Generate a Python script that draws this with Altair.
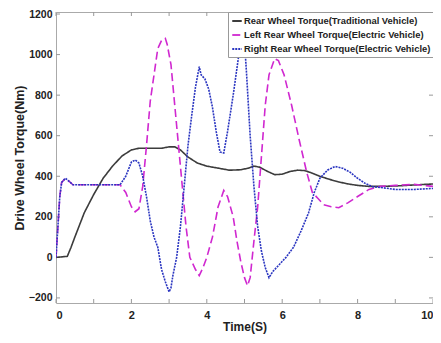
import altair as alt
import pandas as pd

# Traditional vehicle rear wheel torque (black solid)
trad_t = [0, 0.3, 0.4, 0.5, 0.75, 1.0, 1.25, 1.5, 1.75, 2.0, 2.2, 2.5, 2.8, 3.0, 3.15, 3.3, 3.5, 3.75, 4.0, 4.3,
          4.6, 4.9, 5.1, 5.25, 5.4, 5.6, 5.8, 6.0, 6.2, 6.4, 6.6, 6.8, 7.0, 7.25, 7.5, 7.75, 8.0, 8.3, 8.6, 9.0, 9.5, 10.0]
trad_v = [0, 5, 50, 100, 220, 310, 390, 450, 500, 530, 538, 538, 538, 545, 545, 530, 495, 465, 450, 440,
          430, 432, 440, 450, 445, 425, 408, 410, 423, 430, 428, 415, 400, 385, 372, 362, 355, 350, 350, 352, 357, 362]

# Left rear wheel torque, electric vehicle (magenta dashed)
left_t = [0, 0.05, 0.1, 0.15, 0.25, 0.35, 0.45, 1.0, 1.5, 1.7, 1.85, 2.0, 2.1, 2.2, 2.3, 2.4, 2.5, 2.6, 2.7, 2.8,
          2.9, 2.95, 3.05, 3.15, 3.25, 3.35, 3.45, 3.55, 3.7, 3.8, 3.9, 4.0, 4.15, 4.3, 4.45, 4.55, 4.7, 4.8, 4.9, 5.0,
          5.08, 5.15, 5.25, 5.35, 5.45, 5.55, 5.65, 5.8, 5.9, 6.05, 6.25, 6.45, 6.65, 6.8, 6.95, 7.1, 7.3, 7.5, 7.75,
          8.0, 8.3, 8.6, 9.0, 9.5, 10.0]
left_v = [0, 150, 300, 370, 390, 375, 358, 358, 358, 358, 320, 250, 225, 240, 350, 550, 770, 900, 1030, 1070,
          1080, 1050, 950, 750, 550, 350, 150, 0, -60, -90, -50, 0, 100, 250, 330, 300, 200, 80, -20, -100,
          -140, -100, 80, 250, 500, 750, 900, 980, 970, 900, 750, 580, 420, 320, 290, 260, 250, 245, 270,
          300, 335, 350, 355, 360, 350]

# Right rear wheel torque, electric vehicle (blue dotted)
right_t = [0, 0.05, 0.1, 0.15, 0.25, 0.35, 0.45, 1.0, 1.5, 1.7, 1.85, 2.0, 2.1, 2.2, 2.3, 2.4, 2.5, 2.6, 2.7, 2.8,
           2.9, 3.0, 3.05, 3.1, 3.2, 3.3, 3.4, 3.5, 3.6, 3.7, 3.8, 3.85, 3.95, 4.05, 4.15, 4.25, 4.35, 4.45, 4.55,
           4.7, 4.85, 4.95, 5.0, 5.05, 5.15, 5.25, 5.35, 5.45, 5.55, 5.65, 5.75, 5.9, 6.1, 6.3, 6.5, 6.7, 6.85, 7.0,
           7.2, 7.4, 7.6, 7.8, 8.0, 8.2, 8.4, 8.6, 9.0, 9.5, 10.0]
right_v = [0, 150, 300, 370, 390, 375, 358, 358, 358, 358, 400, 470, 480, 465, 400, 300, 180, 100, 50, -60,
           -120, -170, -150, -90, 0, 150, 350, 550, 700, 840, 940, 900, 880, 830, 740, 620, 520, 515, 620,
           800, 1000, 1080, 1060, 920, 600, 350, 150, 30, -50, -100, -70, -40, 0, 50, 130, 220, 320, 390,
           430, 448, 440, 420, 390, 365, 348, 345, 335, 335, 340]

names = ["Rear Wheel Torque(Traditional Vehicle)",
         "Left Rear Wheel Torque(Electric Vehicle)",
         "Right Rear Wheel Torque(Electric Vehicle)"]
colors = ["#3c3c3c", "#d028d0", "#2a35c0"]
dashes = [[1, 0], [8, 4], [2, 1]]

x_ticks = [0, 1, 2, 3, 4, 5, 6, 7, 8, 9, 10]
y_ticks = [-200, 0, 200, 400, 600, 800, 1000, 1200]

rows = []
for name, ts, vs in zip(names, [trad_t, left_t, right_t], [trad_v, left_v, right_v]):
    for i, (t, v) in enumerate(zip(ts, vs)):
        rows.append({"series": name, "t": t, "v": v, "i": i})
df = pd.DataFrame(rows)

W, H = 377, 291
FONT = "Liberation Sans"
xs = alt.Scale(domain=[0, 10], nice=False, zero=False)
ys = alt.Scale(domain=[-225, 1210], nice=False, zero=False)

lines = alt.Chart(df).mark_line(clip=True, strokeWidth=1.6).encode(
    x=alt.X("t:Q", scale=xs, axis=alt.Axis(values=x_ticks, title="Time(S)", grid=False, ticks=False, format="d",
                                           domain=False, labelFont=FONT, labelFontSize=11, labelFontWeight="bold",
                                           labelColor="#222", labelPadding=6, titleFont=FONT, titleFontSize=12,
                                           titleFontWeight="bold", titleColor="#222", titlePadding=1)),
    y=alt.Y("v:Q", scale=ys, axis=alt.Axis(values=y_ticks, title="Drive Wheel Torque(Nm)", grid=False, ticks=False,
                                           format="d", domain=False, labelFont=FONT, labelFontSize=10.5,
                                           labelFontWeight="bold", labelColor="#222", labelPadding=4,
                                           titleFont=FONT, titleFontSize=12.5,
                                           titleFontWeight="bold", titleColor="#222", titlePadding=2)),
    color=alt.Color("series:N", scale=alt.Scale(domain=names, range=colors), sort=names,
                    legend=alt.Legend(title=None, orient="none", legendX=172, legendY=0,
                                      labelFont=FONT, labelFontSize=9.4, labelFontWeight="bold",
                                      labelColor="#222", symbolType="stroke", symbolSize=90,
                                      symbolStrokeWidth=1.8, fillColor="white", strokeColor="#999",
                                      padding=3, rowPadding=3, labelOffset=1, labelLimit=300)),
    strokeDash=alt.StrokeDash("series:N", scale=alt.Scale(domain=names, range=dashes), sort=names, legend=None),
    order="i:Q",
)

# inward ticks
xt = pd.DataFrame({"t": x_ticks})
yt = pd.DataFrame({"v": y_ticks})
tb = alt.Chart(xt).mark_rule(color="#999", strokeWidth=1).encode(
    x=alt.X("t:Q", scale=xs), y=alt.value(H), y2=alt.value(H - 4))
tt = alt.Chart(xt).mark_rule(color="#999", strokeWidth=1).encode(
    x=alt.X("t:Q", scale=xs), y=alt.value(0), y2=alt.value(4))
tl = alt.Chart(yt).mark_rule(color="#999", strokeWidth=1).encode(
    y=alt.Y("v:Q", scale=ys), x=alt.value(0), x2=alt.value(4))
tr = alt.Chart(yt).mark_rule(color="#999", strokeWidth=1).encode(
    y=alt.Y("v:Q", scale=ys), x=alt.value(W), x2=alt.value(W - 4))

chart = alt.layer(tb, tt, tl, tr, lines).properties(
    width=W, height=H,
    autosize=alt.AutoSizeParams(type="none"),
    padding={"left": 48, "top": 4, "right": 0, "bottom": 32},
    background="white",
).configure_view(stroke="#aaa", strokeWidth=1)

chart.save("out.html", embed_options={"renderer": "svg", "actions": False})
